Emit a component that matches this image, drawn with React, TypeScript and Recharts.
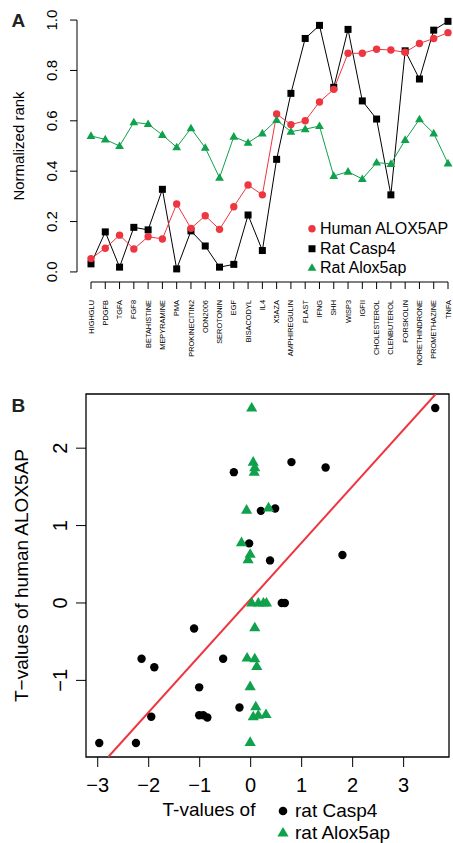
import {
  LineChart,
  Line,
  ScatterChart,
  Scatter,
  XAxis,
  YAxis,
  Legend,
  Label,
  ReferenceLine,
  ReferenceArea,
} from "recharts";

const FONT = '"Liberation Sans", Arial, Helvetica, sans-serif';
const RED = "#EE3640";
const GREEN = "#0FA14B";

// ---- panel A data
const treatments = [
  "HIGHGLU", "PDGFB", "TGFA", "FGF8", "BETAHISTINE", "MEPYRAMINE", "PMA",
  "PROKINECITIN2", "ODN2006", "SEROTONIN", "EGF", "BISACODYL", "IL4", "X5AZA",
  "AMPHIREGULIN", "FLAST", "IFNG", "SHH", "WISP3", "IGFII", "CHOLESTEROL",
  "CLENBUTEROL", "FORSKOLIN", "NORETHINDRONE", "PROMETHAZINE", "TNFA",
];
const humanAlox5apRank = [
  0.053, 0.094, 0.146, 0.091, 0.14, 0.131, 0.27, 0.173, 0.223, 0.169, 0.259,
  0.345, 0.306, 0.627, 0.585, 0.6, 0.675, 0.725, 0.868, 0.868, 0.884, 0.881,
  0.872, 0.907, 0.927, 0.95,
];
const ratCasp4Rank = [
  0.032, 0.159, 0.019, 0.177, 0.167, 0.328, 0.012, 0.163, 0.103, 0.019, 0.03,
  0.226, 0.085, 0.447, 0.709, 0.927, 0.979, 0.733, 0.963, 0.679, 0.607, 0.306,
  0.878, 0.766, 0.96, 0.995,
];
const ratAlox5apRank = [
  0.54, 0.526, 0.5, 0.594, 0.587, 0.544, 0.495, 0.57, 0.493, 0.374, 0.537,
  0.513, 0.55, 0.603, 0.557, 0.567, 0.579, 0.381, 0.398, 0.369, 0.434, 0.429,
  0.524, 0.606, 0.55, 0.431,
];
const rankTicks = [0, 0.2, 0.4, 0.6, 0.8, 1.0];

// ---- panel B data: [rat t-value, human ALOX5AP t-value]
const casp4TValues = [
  [3.62, 2.52], [0.8, 1.82], [1.47, 1.75], [-0.33, 1.69], [0.2, 1.19],
  [0.48, 1.22], [-0.03, 0.77], [0.38, 0.55], [1.8, 0.62], [0.61, 0],
  [0.67, 0], [-1.11, -0.33], [-2.14, -0.72], [-1.89, -0.83], [-0.54, -0.72],
  [-1.01, -1.09], [-0.22, -1.35], [-1.95, -1.47], [-1.01, -1.45],
  [-0.93, -1.45], [-0.85, -1.48], [-2.97, -1.81], [-2.25, -1.81],
];
const alox5apTValues = [
  [0.02, 2.52], [0.05, 1.82], [0.08, 1.75], [0.07, 1.69], [-0.08, 1.2],
  [0.35, 1.23], [-0.18, 0.78], [-0.01, 0.63], [-0.05, 0.56], [0.02, 0],
  [0.15, 0], [0.25, 0], [0.31, 0], [0.08, -0.32], [-0.07, -0.71],
  [0.08, -0.72], [0.12, -0.82], [-0.01, -1.08], [0.1, -1.34], [0.05, -1.47],
  [0.15, -1.45], [0.3, -1.44], [-0.01, -1.8],
];
const tXTicks = [-3, -2, -1, 0, 1, 2, 3];
const tYTicks = [-1, 0, 1, 2];
const fitSlope = 0.73;
const fitIntercept = 0.05;

const rankData = treatments.map((name, i) => ({
  name,
  human: humanAlox5apRank[i],
  casp4: ratCasp4Rank[i],
  alox: ratAlox5apRank[i],
}));
const toPoints = (rows: number[][]) => rows.map(([x, y]) => ({ x, y }));

const X_DOM: [number, number] = [-3.23, 3.89];
const Y_DOM: [number, number] = [-1.99, 2.7];
const fitLine = [
  { x: (Y_DOM[0] - fitIntercept) / fitSlope, y: Y_DOM[0] },
  { x: (Y_DOM[1] - fitIntercept) / fitSlope, y: Y_DOM[1] },
];

const minus = (v: number) => (v < 0 ? `\u2212${-v}` : `${v}`);

// ---- markers
const SquareDot = (p: any) => (
  <rect key={`s-${p.index}`} x={p.cx - 3.5} y={p.cy - 3.5} width={7} height={7} fill="#000" />
);
const TriDot = (p: any) => (
  <polygon
    key={`t-${p.index}`}
    points={`${p.cx},${p.cy - 4.6} ${p.cx + 4.4},${p.cy + 3} ${p.cx - 4.4},${p.cy + 3}`}
    fill={GREEN}
  />
);
const BigCircle = (p: any) => <circle cx={p.cx} cy={p.cy} r={4.2} fill="#000" />;
const BigTri = (p: any) => (
  <polygon
    points={`${p.cx},${p.cy - 6} ${p.cx + 5.6},${p.cy + 3.6} ${p.cx - 5.6},${p.cy + 3.6}`}
    fill={GREEN}
  />
);

// ---- ticks
const RankXTick = ({ x, y, payload }: any) => (
  <text x={x} y={y} transform={`rotate(-90, ${x}, ${y})`} textAnchor="end" dy="0.35em" fontSize={7.4} fill="#000">
    {payload.value}
  </text>
);
const RankYTick = ({ x, y, payload }: any) => (
  <text x={x - 11} y={y} transform={`rotate(-90, ${x - 11}, ${y})`} textAnchor="middle" fontSize={15} fill="#000">
    {Number(payload.value).toFixed(1)}
  </text>
);
const TXTick = ({ x, y, payload }: any) => (
  <text x={x} y={y + 9} textAnchor="middle" dy="0.71em" fontSize={20} fill="#000">
    {minus(payload.value)}
  </text>
);
const TYTick = ({ x, y, payload }: any) => (
  <text x={x - 7} y={y} transform={`rotate(-90, ${x - 7}, ${y})`} textAnchor="middle" fontSize={20} fill="#000">
    {minus(payload.value)}
  </text>
);
const TXTitle = ({ viewBox }: any) => (
  <text x={viewBox.x + 123} y={viewBox.y + 59} textAnchor="middle" fontSize={19} fill="#000">
    T-values of
  </text>
);

// ---- legends
const rankLegend = [
  { key: "human", label: "Human ALOX5AP" },
  { key: "casp4", label: "Rat Casp4" },
  { key: "alox", label: "Rat Alox5ap" },
];
const marker = (key: string, big: boolean) => {
  if (key === "casp4") return big ? <circle cx={7} cy={11} r={4.3} fill="#000" /> : <rect x={3.5} y={6.25} width={7} height={7} fill="#000" />;
  if (key === "human") return <circle cx={7} cy={9.75} r={3.7} fill={RED} />;
  return big ? (
    <polygon points="7,5 12.6,14.6 1.4,14.6" fill={GREEN} />
  ) : (
    <polygon points="7,5.2 11.4,12.8 2.6,12.8" fill={GREEN} />
  );
};
const RankLegend = () => (
  <div style={{ fontSize: 16, lineHeight: "19.5px", color: "#000" }}>
    {rankLegend.map((it) => (
      <div key={it.key} style={{ display: "flex", alignItems: "center", height: 19.5 }}>
        <svg width={15} height={19.5}>{marker(it.key, false)}</svg>
        <span>{it.label}</span>
      </div>
    ))}
  </div>
);
const tLegend = [
  { key: "casp4", label: "rat Casp4" },
  { key: "alox", label: "rat Alox5ap" },
];
const TLegend = () => (
  <div style={{ fontSize: 19, lineHeight: "22px", color: "#000" }}>
    {tLegend.map((it) => (
      <div key={it.key} style={{ display: "flex", alignItems: "center", height: 22 }}>
        <svg width={19} height={22}>{marker(it.key, true)}</svg>
        <span>{it.label}</span>
      </div>
    ))}
  </div>
);

export default function App() {
  return (
    <div
      style={{
        position: "absolute",
        left: 0,
        top: 0,
        width: 453,
        height: 843,
        overflow: "hidden",
        background: "#fff",
        fontFamily: FONT,
      }}
    >
      <div style={{ position: "absolute", left: 0, top: 0 }}>
        <LineChart width={462} height={370} data={rankData} margin={{ top: 10, right: 0, bottom: 0, left: 0 }}>
          <XAxis
            dataKey="name"
            interval={0}
            padding={{ left: 14, right: 14 }}
            axisLine={false}
            tickSize={7}
            tickMargin={11}
            tickLine={{ stroke: "#000" }}
            tick={<RankXTick />}
            height={88}
          />
          <XAxis xAxisId="frame" type="number" domain={[0, 1]} hide />
          <YAxis
            domain={[-0.04, 1.04]}
            ticks={rankTicks}
            width={77}
            tickSize={7}
            tickMargin={2}
            axisLine={false}
            tickLine={{ stroke: "#000" }}
            tick={<RankYTick />}
          >
            <Label
              value="Normalized rank"
              angle={-90}
              position="insideLeft"
              offset={19}
              style={{ textAnchor: "middle", fontSize: 15, fill: "#000" }}
            />
          </YAxis>
          <ReferenceLine
            xAxisId="frame"
            segment={[{ x: 0, y: 0 }, { x: 0, y: 1 }]}
            stroke="#000"
            ifOverflow="visible"
          />
          <ReferenceLine
            segment={[{ x: treatments[0], y: -0.04 }, { x: treatments[treatments.length - 1], y: -0.04 }]}
            stroke="#000"
            ifOverflow="visible"
          />
          <Line dataKey="casp4" name="Rat Casp4" stroke="#000" strokeWidth={1} dot={SquareDot} activeDot={false} isAnimationActive={false} />
          <Line dataKey="human" name="Human ALOX5AP" stroke={RED} strokeWidth={1} dot={{ r: 3.7, fill: RED, stroke: "none" }} activeDot={false} isAnimationActive={false} />
          <Line dataKey="alox" name="Rat Alox5ap" stroke={GREEN} strokeWidth={1} dot={TriDot} activeDot={false} isAnimationActive={false} />
          <Legend
            layout="vertical"
            align="center"
            verticalAlign="middle"
            content={<RankLegend />}
            wrapperStyle={{ left: 305, top: 219, width: 160 }}
          />
        </LineChart>
      </div>

      <div style={{ position: "absolute", left: 0, top: 370 }}>
        <ScatterChart width={453} height={473} margin={{ top: 24, right: 4, bottom: 0, left: 0 }}>
          <XAxis
            type="number"
            dataKey="x"
            domain={X_DOM}
            ticks={tXTicks}
            allowDataOverflow
            axisLine={false}
            tickSize={10}
            tickMargin={2}
            tickLine={{ stroke: "#000" }}
            tick={<TXTick />}
            height={86}
          >
            <Label content={<TXTitle />} />
          </XAxis>
          <YAxis
            type="number"
            dataKey="y"
            domain={Y_DOM}
            ticks={tYTicks}
            allowDataOverflow
            axisLine={false}
            width={86}
            tickSize={10}
            tickMargin={2}
            tickLine={{ stroke: "#000" }}
            tick={<TYTick />}
          >
            <Label
              value={"T\u2212values of human ALOX5AP"}
              angle={-90}
              position="insideLeft"
              offset={21}
              style={{ textAnchor: "middle", fontSize: 19, fill: "#000" }}
            />
          </YAxis>
          <ReferenceArea
            x1={X_DOM[0]}
            x2={X_DOM[1]}
            y1={Y_DOM[0]}
            y2={Y_DOM[1]}
            fill="none"
            fillOpacity={0}
            stroke="#000"
            strokeWidth={1.3}
            ifOverflow="visible"
          />
          <Scatter name="rat Casp4" data={toPoints(casp4TValues)} shape={BigCircle} isAnimationActive={false} />
          <Scatter name="rat Alox5ap" data={toPoints(alox5apTValues)} shape={BigTri} isAnimationActive={false} />
          <ReferenceLine segment={fitLine} stroke={RED} strokeWidth={2} ifOverflow="hidden" />
          <Legend
            layout="vertical"
            align="center"
            verticalAlign="middle"
            content={<TLegend />}
            wrapperStyle={{ left: 276, top: 430, width: 170 }}
          />
        </ScatterChart>
      </div>

      <svg width={453} height={843} style={{ position: "absolute", left: 0, top: 0, pointerEvents: "none" }}>
        <text x={11.5} y={26.7} fontSize={19} fontWeight="bold" fill="#222">A</text>
        <text x={11.5} y={411.7} fontSize={19} fontWeight="bold" fill="#222">B</text>
      </svg>
    </div>
  );
}
